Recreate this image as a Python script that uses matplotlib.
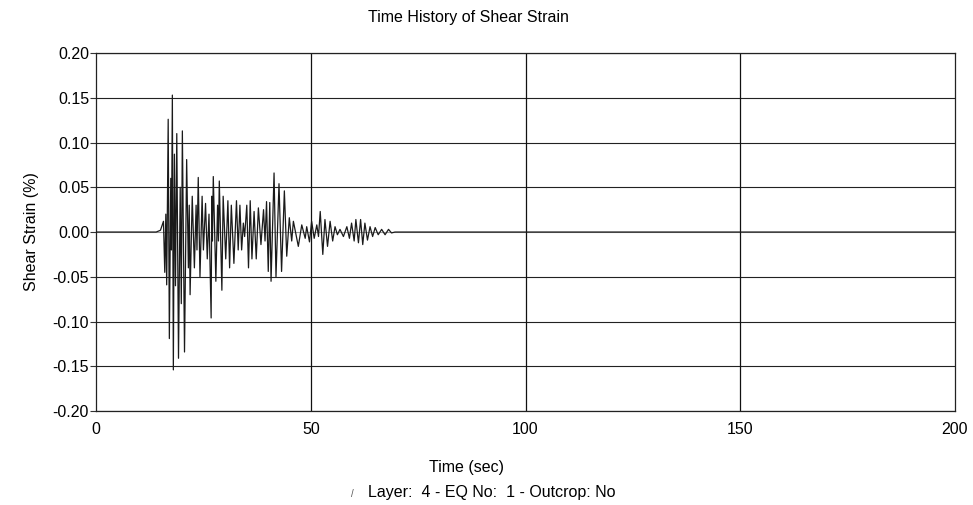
import matplotlib
matplotlib.use("Agg")
import matplotlib.pyplot as plt

plt.rcParams['font.family'] = ['Liberation Sans', 'DejaVu Sans']

# Time (sec) of each read-off extremum and corresponding shear strain (%)
time_s = [
    0.0, 14.0, 15.0, 15.7, 16.0, 16.25, 16.45, 16.8, 17.07, 17.4,
    17.55, 17.77, 18.0, 18.25, 18.5, 18.8, 19.2, 19.6, 19.85, 20.1,
    20.6, 21.1, 21.5, 21.7, 21.9, 22.4, 22.9, 23.3, 23.5, 23.8,
    24.2, 24.7, 25.0, 25.5, 25.9, 26.3, 26.8, 26.95, 27.1, 27.3,
    27.9, 28.3, 28.5, 28.7, 29.3, 29.6, 30.2, 30.7, 31.1, 31.5,
    32.1, 32.7, 33.1, 33.5, 33.9, 34.3, 34.6, 35.1, 35.5, 35.9,
    36.3, 36.8, 37.3, 37.8, 38.4, 39.0, 39.35, 39.7, 40.1, 40.45,
    40.75, 41.45, 41.9, 42.6, 43.2, 43.85, 44.4, 45.0, 45.56, 45.95,
    47.1, 47.9, 48.7, 49.05, 49.7, 50.2, 50.8, 51.4, 51.8, 52.2,
    52.8, 53.3, 53.9, 54.5, 55.1, 55.65, 56.2, 56.8, 57.6, 58.4,
    59.0, 59.5, 60.1, 60.5, 61.1, 61.6, 62.1, 62.6, 63.2, 63.8,
    64.4, 65.0, 65.7, 66.5, 67.3, 68.1, 68.8, 69.6, 200.0,
]
strain_pct = [
    0.0, 0.0, 0.002, 0.012, -0.045, 0.02, -0.059, 0.126, -0.119, 0.06,
    -0.02, 0.153, -0.154, 0.087, -0.06, 0.11, -0.141, 0.05, -0.08, 0.113,
    -0.134, 0.081, -0.04, 0.03, -0.070, 0.04, -0.04, 0.03, -0.02, 0.061,
    -0.05, 0.04, -0.02, 0.032, -0.03, 0.02, -0.096, 0.04, -0.01, 0.062,
    -0.055, 0.03, -0.01, 0.057, -0.065, 0.04, -0.03, 0.035, -0.04, 0.03,
    -0.035, 0.035, -0.02, 0.03, -0.02, 0.01, -0.005, 0.03, -0.04, 0.035,
    -0.03, 0.023, -0.03, 0.027, -0.014, 0.025, -0.01, 0.034, -0.044, 0.033,
    -0.055, 0.066, -0.05, 0.054, -0.044, 0.046, -0.027, 0.016, -0.01, 0.012,
    -0.016, 0.008, -0.007, 0.006, -0.011, 0.012, -0.007, 0.008, -0.005, 0.023,
    -0.025, 0.014, -0.016, 0.012, -0.01, 0.006, -0.003, 0.003, -0.005, 0.006,
    -0.007, 0.01, -0.01, 0.014, -0.012, 0.014, -0.014, 0.01, -0.009, 0.006,
    -0.005, 0.005, -0.003, 0.003, -0.003, 0.003, -0.001, 0.0, 0.0,
]

x_ticks = [0, 50, 100, 150, 200]
y_ticks = [-0.20, -0.15, -0.10, -0.05, 0.00, 0.05, 0.10, 0.15, 0.20]

title = "Time History of Shear Strain"
x_label = "Time (sec)"
y_label = "Shear Strain (%)"
footer = "Layer:  4 - EQ No:  1 - Outcrop: No"

FS = 11.5

fig = plt.figure(figsize=(9.73, 5.05), dpi=100)
ax = fig.add_axes([0.0987, 0.186, 0.8828, 0.709])

for yv in y_ticks:
    ax.axhline(yv, color='#9a9a9a' if yv == 0 else '#222222', lw=0.8, zorder=1)
for xv in x_ticks[1:-1]:
    ax.axvline(xv, color='#111111', lw=0.9, zorder=1)

ax.plot(time_s, strain_pct, color='#1a1a1a', lw=0.9, zorder=3)

ax.set_xlim(0, 200)
ax.set_ylim(-0.20, 0.20)
ax.set_xticks(x_ticks)
ax.set_yticks(y_ticks)
ax.set_yticklabels([f"{v:.2f}" for v in y_ticks])
ax.tick_params(axis='both', labelsize=FS, direction='out', length=4, width=0.8, color='#333333')
ax.tick_params(axis='x', length=0, pad=8)
ax.tick_params(axis='y', pad=1)
for s in ax.spines.values():
    s.set_color('#222222')
    s.set_linewidth(0.9)

ax.set_ylabel(y_label, fontsize=FS, labelpad=10)
fig.text(0.481, 0.966, title, ha='center', va='center', fontsize=FS)
fig.text(0.479, 0.0733, x_label, ha='center', va='center', fontsize=FS)
fig.text(0.5057, 0.0257, footer, ha='center', va='center', fontsize=FS)
fig.text(0.3618, 0.022, "/", ha='center', va='center', fontsize=7, color='#555555')

fig.savefig("out.png", dpi=100)
